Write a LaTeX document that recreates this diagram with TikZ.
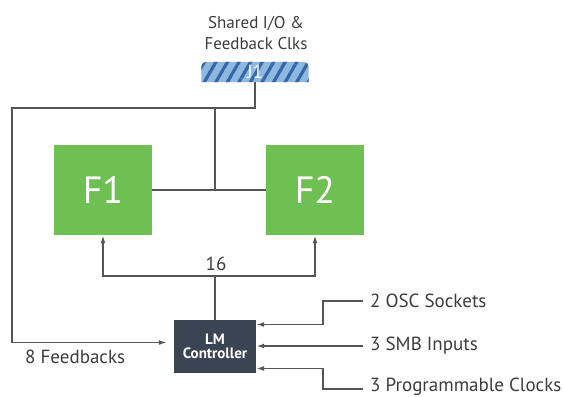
\documentclass[tikz,border=0pt]{standalone}
\usepackage{fontspec}
\setmainfont{PT Sans}
\usetikzlibrary{arrows.meta, patterns.meta}
\definecolor{fpgagreen}{HTML}{6FC052}
\definecolor{ctrlgray}{HTML}{3B4452}
\definecolor{hdrblue}{HTML}{8CB8E2}
\definecolor{hdrstripe}{HTML}{3568A2}
\definecolor{wiregray}{HTML}{555555}
\definecolor{labelgray}{HTML}{3C3C3C}
\tikzstyle{fpgablock} = [fill=fpgagreen, minimum width=98pt, minimum height=90pt, text=white, font=\fontsize{38}{40}\selectfont]
\tikzstyle{ctrlblock} = [fill=ctrlgray, minimum width=82pt, minimum height=53pt, text=white, align=center, font=\bfseries\fontsize{15}{14}\selectfont]
\tikzstyle{sidelabel} = [text=labelgray, font=\fontsize{19}{20}\selectfont, inner sep=0pt]
\tikzstyle{wire} = [draw=wiregray, line width=1.7pt]

\begin{document}
\begin{tikzpicture}[x=1pt, y=-1pt, >={Latex[length=8pt,width=5pt]}]
      \useasboundingbox (0,0) rectangle (564,396);
      \node[text=labelgray, align=center, font=\fontsize{17}{21}\selectfont] (shared) at (256,33) {Shared I/O \&\\Feedback Clks};
      \node[minimum width=107pt, minimum height=20pt, inner sep=0pt] (j1) at (255,72) {};
      \path[fill=hdrblue, postaction={pattern={Lines[angle=60, distance=10pt, line width=3.2pt]}, pattern color=hdrstripe}]
        (j1.south west) [rounded corners=5pt] -- (j1.north west) -- (j1.north east) [sharp corners] -- (j1.south east) -- cycle;
      \node[text=white, font=\fontsize{19}{19}\selectfont] (j1text) at (j1) {J1};
      \node[fpgablock] (f1) at (103,190) {F1};
      \node[fpgablock] (f2) at (315,190) {F2};
      \node[ctrlblock] (ctrl) at (215,346.5) {LM\\Controller};
      \node[sidelabel, anchor=west] (osc) at (370,301) {2 OSC Sockets};
      \node[sidelabel, anchor=west] (smb) at (370,346) {3 SMB Inputs};
      \node[sidelabel, anchor=west] (clk) at (370,387) {3 Programmable Clocks};
      \node[sidelabel, anchor=west] (fb) at (25,357) {8 Feedbacks};
      \node[sidelabel] (buswidth) at (216,264) {16};
      \coordinate (fbcorner) at (12,108);
      \coordinate (tap) at (215,108);
      \coordinate (bus) at (215,276);

      % J1 to both FPGAs and back to the controller
      \draw[wire, ->, shorten >=7pt] (j1.south) |- (fbcorner) |- ([yshift=4pt]ctrl.west);
      \draw[wire] (tap) -- (tap |- f1.east);
      \draw[wire] (f1) -- (f2);
      % 16 bit bus
      \draw[wire, ->] (bus) -| (f1.south);
      \draw[wire, ->] (bus) -| (f2.south);
      \draw[wire] (bus) -- (ctrl.north);
      % controller inputs
      \draw[wire, ->] ([xshift=-7pt]osc.west) -- ++(-40,0) |- ([yshift=22pt]ctrl.east);
      \draw[wire, ->] ([xshift=-7pt]smb.west) -- (ctrl.east |- smb.west);
      \draw[wire, ->] ([xshift=-7pt, yshift=-2pt]clk.west) -- ++(-40,0) |- ([yshift=-22pt]ctrl.east);
    \end{tikzpicture}
\end{document}
